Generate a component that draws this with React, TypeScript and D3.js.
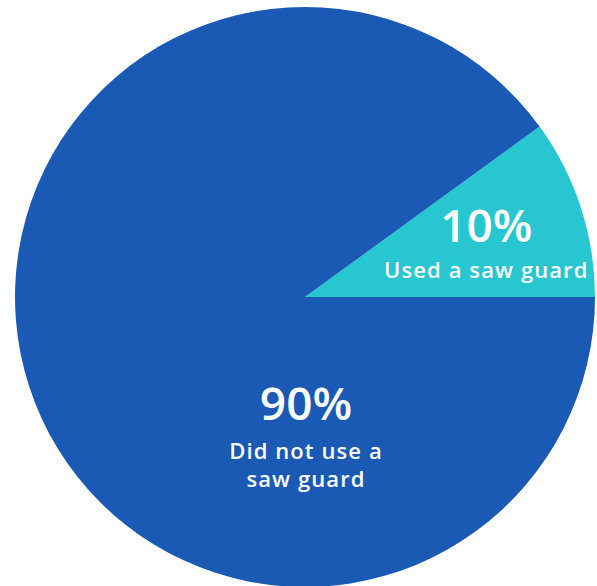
import React from "react";
import * as d3 from "d3";

const categories = ["Used a saw guard", "Did not use a saw guard"];
const values = [10, 90];
const percentLabels = ["10%", "90%"];
const subLines = [["Used a saw guard"], ["Did not use a", "saw guard"]];
const colors = ["#27c6d0", "#1a59b4"];

export default function App() {
  const W = 597, H = 586;
  const cx = 305, cy = 297, r = 290;
  const data = categories.map((c, i) => ({ c, v: values[i], i }));
  const pie = d3.pie<any>().value((d) => d.v).sort(null).startAngle(Math.PI * 0.3).endAngle(Math.PI * 2.3);
  const arcs = pie(data);
  const arc = d3.arc<any>().innerRadius(0).outerRadius(r);
  const labelArc = d3.arc<any>().innerRadius(r * 0.65).outerRadius(r * 0.65);
  const font = "'Open Sans', sans-serif";
  return (
    <svg width={W} height={H} style={{ position: "absolute", left: 0, top: 0 }}>
      <g transform={`translate(${cx},${cy})`}>
        {arcs.map((a) => (
          <path key={a.data.c} d={arc(a) as string} fill={colors[a.data.i]} />
        ))}
        {arcs.map((a) => {
          const [lx, ly] = labelArc.centroid(a);
          const i = a.data.i;
          const x = i === 0 ? lx + 2 : 1;
          const y = i === 0 ? ly + 3 : 123;
          const subGap = i === 0 ? 36 : 39;
          return (
            <g key={"l" + i} transform={`translate(${x},${y})`} fill="#fff" textAnchor="middle" fontFamily={font}>
              <text y={0} fontSize={46} fontWeight={600}>{percentLabels[i]}</text>
              {subLines[i].map((t, j) => (
                <text key={j} y={subGap + j * 28} fontSize={22} fontWeight={600} letterSpacing={1.1}>{t}</text>
              ))}
            </g>
          );
        })}
      </g>
    </svg>
  );
}
